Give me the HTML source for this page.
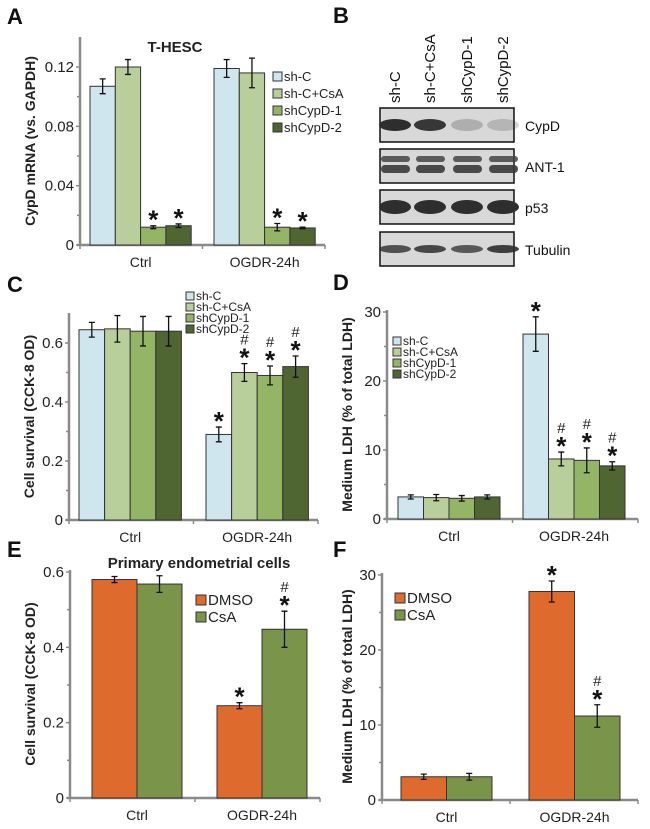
<!DOCTYPE html>
<html><head><meta charset="utf-8">
<style>
body{margin:0;background:#fff;}
svg{display:block;font-family:"Liberation Sans",Arial,sans-serif;}
</style></head>
<body>
<svg id="fig" width="650" height="829" viewBox="0 0 650 829"></svg>
<script>
// ---------- data ----------
const groupsLabels = ["Ctrl","OGDR-24h"];
const shSeries = ["sh-C","sh-C+CsA","shCypD-1","shCypD-2"];
const drugSeries = ["DMSO","CsA"];
const aVals = [[0.107,0.120,0.012,0.013],[0.119,0.116,0.012,0.0115]];
const aErr  = [[0.005,0.005,0.001,0.0012],[0.006,0.010,0.0025,0.0005]];
const aMarks= [["","","*","*"],["","","*","*"]];
const aTicks= [0,0.04,0.08,0.12];
const aTickLabels=["0","0.04","0.08","0.12"];
const cVals = [[0.645,0.648,0.640,0.640],[0.290,0.500,0.490,0.520]];
const cErr  = [[0.025,0.045,0.050,0.050],[0.025,0.030,0.032,0.036]];
const cMarks= [["","","",""],["*","#*","#*","#*"]];
const cTicks= [0,0.2,0.4,0.6];
const cTickLabels=["0","0.2","0.4","0.6"];
const dVals = [[3.2,3.1,3.0,3.2],[26.8,8.7,8.5,7.7]];
const dErr  = [[0.3,0.45,0.4,0.3],[2.5,1.0,1.8,0.6]];
const dMarks= [["","","",""],["*","#*","#*","#*"]];
const dTicks= [0,10,20,30];
const dTickLabels=["0","10","20","30"];
const eVals = [[0.580,0.568],[0.245,0.448]];
const eErr  = [[0.008,0.022],[0.008,0.048]];
const eMarks= [["",""],["*","#*"]];
const eTicks= [0,0.2,0.4,0.6];
const eTickLabels=["0","0.2","0.4","0.6"];
const fVals = [[3.1,3.1],[27.8,11.2]];
const fErr  = [[0.35,0.45],[1.4,1.5]];
const fMarks= [["",""],["*","#*"]];
const fTicks= [0,10,20,30];
const fTickLabels=["0","10","20","30"];
const shColors=["#cfe6ee","#b8cf9b","#94b466","#4f6532"];
const drugColors=["#de6a2e","#7a9449"];

const svg=document.getElementById('fig');
const NS="http://www.w3.org/2000/svg";
function mk(tag,attrs,parent,text){const e=document.createElementNS(NS,tag);for(const k in attrs)e.setAttribute(k,attrs[k]);if(text!==undefined)e.textContent=text;(parent||svg).appendChild(e);return e;}

function chart(cfg){
  const g=mk('g',{});
  
  
  const y=v=>cfg.y0-(v/cfg.max)*(cfg.y0-cfg.yTop);
  const ax='#8a8a8a';
  const ya=mk('line',{x1:cfg.ax,y1:cfg.axTop,x2:cfg.ax,y2:cfg.y0,stroke:ax,'stroke-width':2.5},g);
  
  const xa=mk('line',{x1:cfg.ax-3,y1:cfg.y0,x2:cfg.axEnd,y2:cfg.y0,stroke:ax,'stroke-width':2.5},g);
  
  const step=(y(cfg.ticks[0])-y(cfg.ticks[1]))/2;
  for(let i=0;i<cfg.ticks.length;i++){
    const ty=y(cfg.ticks[i]);
    mk('line',{x1:cfg.ax-4,y1:ty,x2:cfg.ax,y2:ty,stroke:ax,'stroke-width':1.5},g);
    if(i<cfg.ticks.length-1) mk('line',{x1:cfg.ax-3,y1:ty-step,x2:cfg.ax,y2:ty-step,stroke:ax,'stroke-width':1.5},g);
    const t=mk('text',{x:cfg.ax-6,y:ty+5,'text-anchor':'end','font-size':15,fill:'#222'},g,cfg.tickLabels[i]);
    
  }
  const mid=(cfg.ax+cfg.axEnd)/2;
  [cfg.ax,mid,cfg.axEnd].forEach(xx=>mk('line',{x1:xx,y1:cfg.y0,x2:xx,y2:cfg.y0+4,stroke:ax,'stroke-width':1.5},g));
  const yt=mk('text',{x:0,y:0,transform:`translate(${cfg.ytX},${(cfg.axTop+cfg.y0)/2}) rotate(-90)`,'text-anchor':'middle','font-size':14,'font-weight':'bold',fill:'#222'},g,cfg.yTitle);
  
  for(let gi=0;gi<cfg.vals.length;gi++){
    const n=cfg.vals[gi].length;
    const gx=cfg.groupX[gi];
    for(let si=0;si<n;si++){
      const x=gx+si*cfg.bw, v=cfg.vals[gi][si], e=cfg.err[gi][si];
      const b=mk('rect',{x:x,y:y(v),width:cfg.bw,height:cfg.y0-y(v),fill:cfg.colors[si],stroke:'#333','stroke-width':1},g);
      
      
      const cx=x+cfg.bw/2;
      const eb=mk('path',{d:`M${cx},${y(v+e)}V${y(v-e)}M${cx-3},${y(v+e)}H${cx+3}M${cx-3},${y(v-e)}H${cx+3}`,stroke:'#111','stroke-width':1.3,fill:'none'},g);
      
      const m=cfg.marks[gi][si];
      if(m){
        const top=y(v+e);
        const st=mk('text',{x:cx,y:top+3,'text-anchor':'middle','font-size':26,'font-weight':'bold',fill:'#111'},g,'*');
        
        if(m.length>1){
          const h=mk('text',{x:cx,y:top-19,'text-anchor':'middle','font-size':15,fill:'#222'},g,'#');
          
        }
      }
    }
    const xl=mk('text',{x:gx+n*cfg.bw/2,y:cfg.y0+22,'text-anchor':'middle','font-size':14,fill:'#222'},g,cfg.labels[gi]);
    
  }
  const lg=mk('g',{},g);
  cfg.series.forEach((s,i)=>{
    const ly=cfg.legY+i*cfg.legDy;
    const e=mk('g',{},lg);
    mk('rect',{x:cfg.legX,y:ly-cfg.legBox+1,width:cfg.legBox,height:cfg.legBox,fill:cfg.colors[i],stroke:'#333','stroke-width':1},e);
    mk('text',{x:cfg.legX+cfg.legBox+2,y:ly+1,'font-size':cfg.legFs,fill:'#222'},e,s);
  });
  if(cfg.title){const t=mk('text',{x:cfg.titleX,y:cfg.titleY,'text-anchor':'middle','font-size':cfg.titleFs,'font-weight':'bold',fill:'#222'},g,cfg.title);}
}

function panelLabel(t,x,y){const e=mk('text',{x:x,y:y,'font-size':22,'font-weight':'bold',fill:'#111'},svg,t);}
panelLabel('A',7,24);panelLabel('B',333,23);panelLabel('C',7,292);panelLabel('D',333,290);panelLabel('E',7,557);panelLabel('F',333,557);

chart({name:'panel-a-chart',vals:aVals,err:aErr,marks:aMarks,ticks:aTicks,tickLabels:aTickLabels,max:0.12,
  y0:245,yTop:67,axTop:37,ax:80,axEnd:325,groupX:[90,214],bw:25.3,colors:shColors,series:shSeries,labels:groupsLabels,
  yTitle:'CypD mRNA (vs. GAPDH)',ytX:35,legX:273,legY:80,legDy:17,legBox:9,legFs:13,title:'T-HESC',titleX:175,titleY:52,titleFs:15});
chart({name:'panel-c-chart',vals:cVals,err:cErr,marks:cMarks,ticks:cTicks,tickLabels:cTickLabels,max:0.6,
  y0:520,yTop:343,axTop:313,ax:69,axEnd:318,groupX:[79,206],bw:25.6,colors:shColors,series:shSeries,labels:groupsLabels,
  yTitle:'Cell survival (CCK-8 OD)',ytX:34,legX:186,legY:299,legDy:11,legBox:8,legFs:12});
chart({name:'panel-d-chart',vals:dVals,err:dErr,marks:dMarks,ticks:dTicks,tickLabels:dTickLabels,max:30,
  y0:519,yTop:312,axTop:310,ax:387,axEnd:638,groupX:[398,523],bw:25.5,colors:shColors,series:shSeries,labels:groupsLabels,
  yTitle:'Medium LDH (% of total LDH)',ytX:352,legX:393,legY:344,legDy:11,legBox:8,legFs:12});
chart({name:'panel-e-chart',vals:eVals,err:eErr,marks:eMarks,ticks:eTicks,tickLabels:eTickLabels,max:0.6,
  y0:798,yTop:572,axTop:570,ax:70,axEnd:320,groupX:[92,217],bw:45,colors:drugColors,series:drugSeries,labels:groupsLabels,
  yTitle:'Cell survival (CCK-8 OD)',ytX:35,legX:196,legY:604,legDy:17,legBox:10,legFs:15,title:'Primary endometrial cells',titleX:199,titleY:568,titleFs:15});
chart({name:'panel-f-chart',vals:fVals,err:fErr,marks:fMarks,ticks:fTicks,tickLabels:fTickLabels,max:30,
  y0:800,yTop:575,axTop:573,ax:382,axEnd:638,groupX:[401,529],bw:45.5,colors:drugColors,series:drugSeries,labels:groupsLabels,
  yTitle:'Medium LDH (% of total LDH)',ytX:352,legX:395,legY:602,legDy:17,legBox:10,legFs:15});

// ---------- western blot ----------
const blotLanes=["sh-C","sh-C+CsA","shCypD-1","shCypD-2"];
const blotRows=["CypD","ANT-1","p53","Tubulin"];
const blotRowY=[108,149,190,232];
const blotIntensity=[[1,0.95,0.25,0.2],[1,1,1,1],[1,1,1,1],[0.8,0.85,0.75,0.9]];
const wb=mk('g',{});
const laneX=[395,430,467,503];
blotLanes.forEach((l,i)=>{const t=mk('text',{x:0,y:0,transform:`translate(${laneX[i]+5},103) rotate(-90)`,'font-size':15,fill:'#111'},wb,l);});
blotRows.forEach((r,ri)=>{
  const y0=blotRowY[ri];
  const box=mk('g',{},wb);
  mk('rect',{x:380,y:y0,width:134,height:34,fill:'#d8d8d8',stroke:'#111','stroke-width':1.5},box);
  laneX.forEach((lx,li)=>{
    const a=blotIntensity[ri][li];
    if(r==='ANT-1'){
      mk('rect',{x:lx-14,y:y0+7,width:29,height:6,rx:3,fill:'#444','fill-opacity':0.85},box);
      mk('rect',{x:lx-14,y:y0+16,width:29,height:8,rx:4,fill:'#3a3a3a','fill-opacity':0.9},box);
    } else {
      const h=r==='Tubulin'?8:(r==='p53'?14:12);
      mk('ellipse',{cx:lx,cy:y0+17,rx:16,ry:h/2,fill:'#2e2e2e','fill-opacity':a},box);
    }
  });
  const t=mk('text',{x:525,y:y0+23,'font-size':14,fill:'#111'},box,r);
});
</script>
</body></html>
